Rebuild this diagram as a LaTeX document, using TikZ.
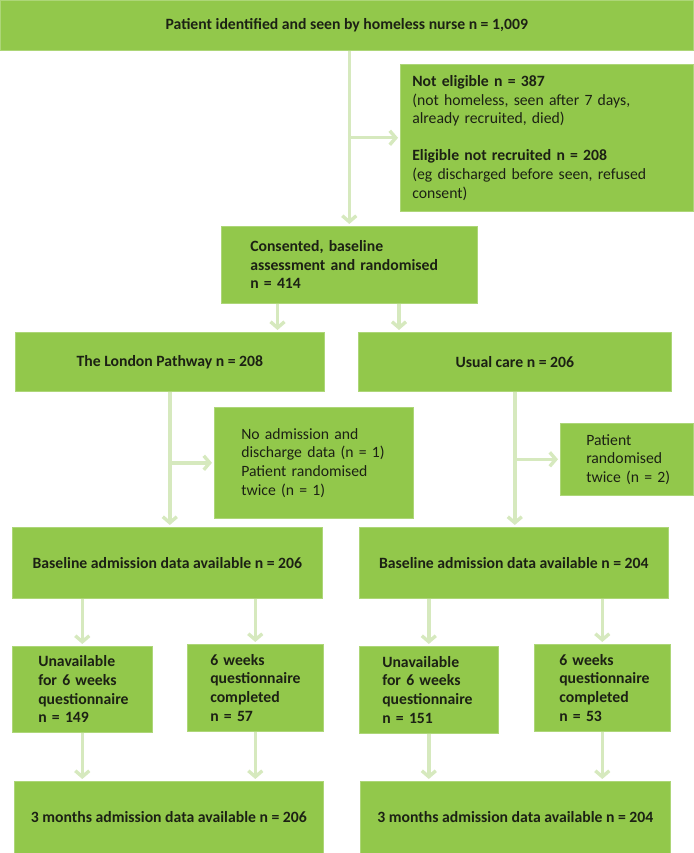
\documentclass[tikz,border=0pt]{standalone}
\usepackage{fontspec}
\setmainfont{Carlito}
\usetikzlibrary{arrows.meta,positioning,calc}
\definecolor{boxgreen}{HTML}{92C84B}
\definecolor{wiregreen}{HTML}{D6E9BE}
\definecolor{inkdark}{HTML}{1C2114}
\tikzset{
	box/.style={fill=boxgreen,draw=boxgreen!75!white,line width=0.6pt,
		anchor=north west,inner ysep=0pt,text=inkdark,
		font=\fontsize{15.7}{18.6}\selectfont},
	cbox/.style={box,align=center,inner xsep=4pt},
	lbox/.style={box,align=left},
	bf/.style={font=\fontsize{15.7}{18.6}\selectfont\bfseries},
	arr/.style={draw=wiregreen,line width=3.4pt,shorten >=2pt,
		-{Straight Barb[length=6pt,width=14pt]}}
}

\begin{document}
\begin{tikzpicture}[x=1pt,y=-1pt]
  \useasboundingbox (0,0) rectangle (693,853);
  \node [cbox,bf,minimum width=693,minimum height=50] (Top) at (0,0) {Patient identified and seen by homeless nurse n = 1,009};
  \node [lbox,minimum width=293,minimum height=147,inner xsep=12pt,text width=269pt] (NotElig) at (400,64)
    {\textbf{Not eligible n = 387}\\(not homeless, seen after 7 days,\\already recruited, died)\\[18.6pt]\textbf{Eligible not recruited n = 208}\\(eg discharged before seen, refused\\consent)};
  \node [lbox,bf,minimum width=256,minimum height=77,inner xsep=29pt,text width=198pt] (Cons) at (221,226)
    {Consented, baseline\\assessment and randomised\\n = 414};
  \node [cbox,bf,minimum width=309,minimum height=59] (Pathway) at (15,332) {The London Pathway n = 208};
  \node [cbox,bf,minimum width=313,minimum height=59] (Usual) at (358,332) {Usual care n = 206};
  \node [lbox,minimum width=199,minimum height=111,inner xsep=27pt,text width=145pt] (NoData) at (214,407)
    {No admission and\\\mbox{discharge data (n = 1)}\\Patient randomised\\twice (n = 1)};
  \node [lbox,minimum width=133,minimum height=72,inner xsep=26pt,text width=81pt] (Twice) at (560,423)
    {Patient\\randomised\\\mbox{twice (n = 2)}};
  \node [cbox,bf,minimum width=310,minimum height=71] (BaseL) at (12,527) {Baseline admission data available n = 206};
  \node [cbox,bf,minimum width=309,minimum height=71] (BaseR) at (359,527) {Baseline admission data available n = 204};
  \node [lbox,bf,minimum width=140,minimum height=86,inner xsep=26pt,text width=88pt] (UnavL) at (12,646)
    {Unavailable\\for 6 weeks\\questionnaire\\n = 149};
  \node [lbox,bf,minimum width=136,minimum height=87,inner xsep=23pt,text width=90pt] (SixL) at (187,644)
    {6 weeks\\questionnaire\\completed\\n = 57};
  \node [lbox,bf,minimum width=139,minimum height=87,inner xsep=23pt,text width=93pt] (UnavR) at (359,646)
    {Unavailable\\for 6 weeks\\questionnaire\\n = 151};
  \node [lbox,bf,minimum width=136,minimum height=87,inner xsep=25pt,text width=86pt] (SixR) at (534,644)
    {6 weeks\\questionnaire\\completed\\n = 53};
  \node [cbox,bf,minimum width=309,minimum height=72] (ThreeL) at (14,781) {3 months admission data available n = 206};
  \node [cbox,bf,minimum width=310,minimum height=72] (ThreeR) at (360,781) {3 months admission data available n = 204};
  \coordinate (ConsA) at ([xshift=56.5pt]Cons.south west);
  \coordinate (ConsB) at ([xshift=178pt]Cons.south west);
  \draw [arr] (Top.south -| Cons.north) -- (Cons.north);
  \draw [arr] (NotElig.west -| Cons.north) -- (NotElig.west);
  \draw [arr] (ConsA) -- (ConsA |- Pathway.north);
  \draw [arr] (ConsB) -- (ConsB |- Usual.north);
  \draw [arr] (Pathway.south) -- (Pathway.south |- BaseL.north);
  \draw [arr] (NoData.west -| Pathway.south) -- (NoData.west);
  \draw [arr] (Usual.south) -- (Usual.south |- BaseR.north);
  \draw [arr] (Twice.west -| Usual.south) -- (Twice.west);
  \draw [arr] (BaseL.south -| UnavL.north) -- (UnavL.north);
  \draw [arr] (BaseL.south -| SixL.north) -- (SixL.north);
  \draw [arr] (BaseR.south -| UnavR.north) -- (UnavR.north);
  \draw [arr] (BaseR.south -| SixR.north) -- (SixR.north);
  \draw [arr] (UnavL.south) -- (UnavL.south |- ThreeL.north);
  \draw [arr] (SixL.south) -- (SixL.south |- ThreeL.north);
  \draw [arr] (UnavR.south) -- (UnavR.south |- ThreeR.north);
  \draw [arr] (SixR.south) -- (SixR.south |- ThreeR.north);
\end{tikzpicture}
\end{document}
